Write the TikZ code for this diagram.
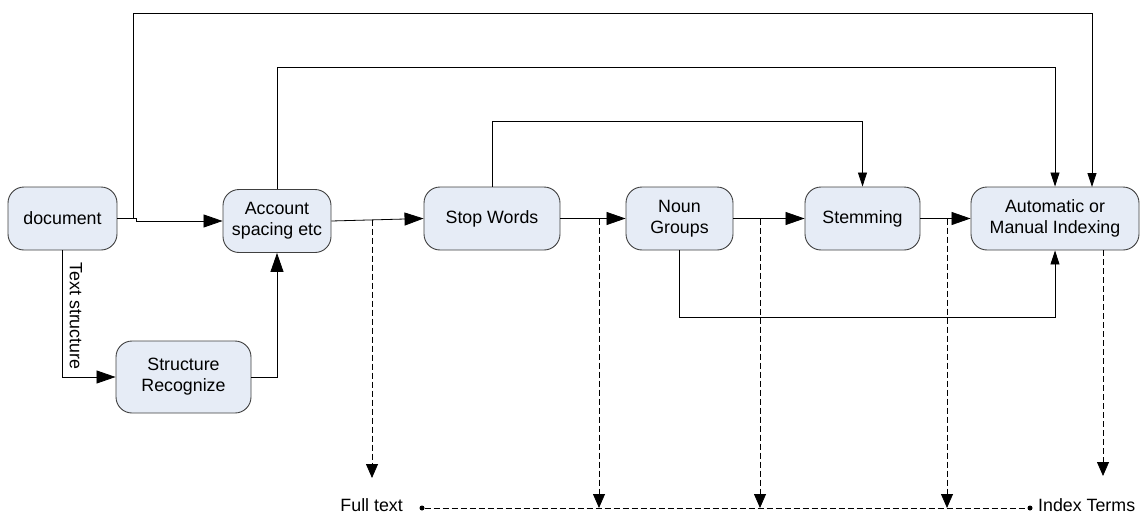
\documentclass[tikz,border=0pt]{standalone}
\usepackage{fontspec}
\setmainfont{Liberation Sans}
\usetikzlibrary{arrows.meta}
\definecolor{boxfill}{HTML}{E6ECF6}
\definecolor{boxline}{HTML}{404040}
\begin{document}
\begin{tikzpicture}[x=1pt,y=-1pt,
  font=\fontsize{17.8}{21}\selectfont,
  stage/.style={draw=boxline,fill=boxfill,rounded corners=16pt,line width=0.9pt,
    align=center,inner sep=0pt},
  flow/.style={line width=0.8pt,-{Triangle[length=19pt,width=13pt]}},
  loop/.style={line width=0.8pt,-{Triangle[length=14pt,width=9pt]}},
  tap/.style={line width=0.8pt,dash pattern=on 6pt off 3pt,-{Triangle[length=14pt,width=12pt]}},
  dot/.style={circle,fill=black,inner sep=0pt,minimum size=5pt}]
\useasboundingbox (0,0) rectangle (1146,514);

% processing stages
\node[stage,minimum width=109pt,minimum height=63pt] (doc) at (62.5,218.5) {document};
\node[stage,minimum width=108pt,minimum height=63pt] (acc) at (277,221) {Account\\spacing etc};
\node[stage,minimum width=135pt,minimum height=72pt] (str) at (183.5,377) {Structure\\Recognize};
\node[stage,minimum width=136pt,minimum height=63pt] (stop) at (492,218.5) {Stop Words};
\node[stage,minimum width=107pt,minimum height=63pt] (noun) at (679.5,218.5) {Noun\\Groups};
\node[stage,minimum width=115pt,minimum height=63pt] (stem) at (862.5,218.5) {Stemming};
\node[stage,minimum width=168pt,minimum height=63pt] (idx) at (1055,218.5) {Automatic or\\Manual Indexing};

% outputs
\node[dot] (ft) at (422,508) {};
\node[dot] (it) at (1030,508) {};
\node[anchor=east,inner sep=0pt] (ftl) at (403,505) {Full text};
\node[anchor=west,inner sep=0pt] (itl) at (1038,505) {Index Terms};

% main chain
\coordinate (j0) at (133,218.5);
\coordinate (j1) at (136,218.5);
\coordinate (j2) at (136,221);
\draw[line width=0.8pt] (doc.east) -- (j1) -- (j2);
\draw[flow] (j2) -- (acc.west);
\draw[flow] (acc.east) -- (stop.west);
\draw[flow] (stop.east) -- (noun.west);
\draw[flow] (noun.east) -- (stem.west);
\draw[flow] (stem.east) -- (idx.west);

% text structure branch
\draw[flow] (doc.south) |- (str.west);
\node[rotate=-90] (tsl) at (76,316) {Text structure};
\draw[flow] (str.east) -| (acc.south);

% bypass loops
\draw[loop] (j0) -- (133,13) -- (1092,13) -- (1092,187);
\draw[loop] (acc.north) -- (277,67) -- (1055,67) -- (idx.north);
\draw[loop] (stop.north) -- (492,121) -- (862.5,121) -- (stem.north);
\draw[loop] (noun.south) -- (679.5,317) -- (1055,317) -- (idx.south);

% taps to the outputs
\draw[tap] (372,219.5) -- (372,478);
\draw[tap] (599,218.5) -- (599,508);
\draw[tap] (760,218.5) -- (760,508);
\draw[tap] (947,218.5) -- (947,508);
\draw[tap] (1103,250) -- (1103,476);
\draw[line width=0.8pt,dash pattern=on 6pt off 3pt] (ft) -- (it);
\end{tikzpicture}
\end{document}
